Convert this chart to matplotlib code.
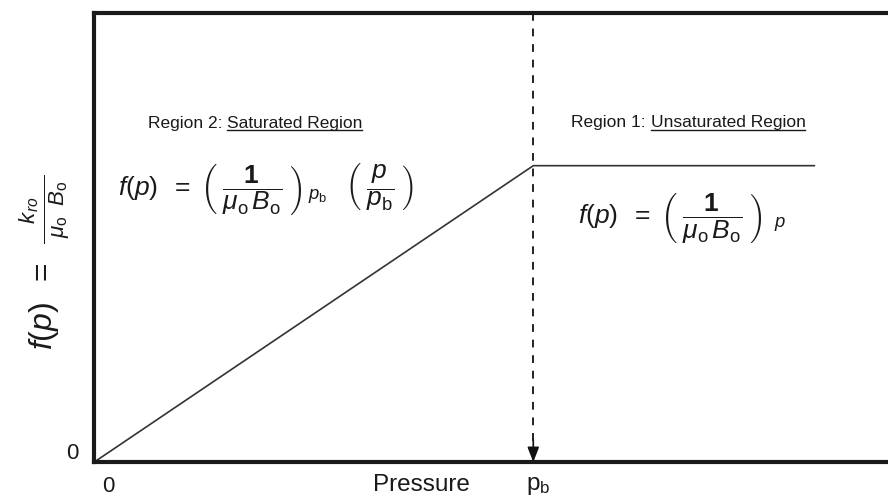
import matplotlib
matplotlib.use("Agg")
import matplotlib.pyplot as plt
from matplotlib.lines import Line2D

plt.rcParams['font.family'] = ['Liberation Sans', 'DejaVu Sans']
plt.rcParams['mathtext.fontset'] = 'custom'
plt.rcParams['mathtext.rm'] = 'Liberation Sans'
plt.rcParams['mathtext.it'] = 'Liberation Sans:italic'
plt.rcParams['mathtext.bf'] = 'Liberation Sans:bold'

# mobility function vs pressure (pb normalised to 1)
pressure = [0.0, 1.0, 1.64]
f_p = [0.0, 0.66, 0.66]
pb = 1.0

region_labels = [("Region 2: ", "Saturated Region"), ("Region 1: ", "Unsaturated Region")]
region_pos = [(0.122, 0.744), (1.086, 0.746)]

eq_saturated = (r'$f(p)\;\;=\;\left(\;\dfrac{\mathbf{1}}{\mu_\mathrm{o}\,B_\mathrm{o}}\;\right)_{\,p_\mathrm{b}}'
                r'\;\;\;\left(\;\dfrac{p}{p_\mathrm{b}}\;\right)$')
eq_unsaturated = (r'$f(p)\;\;=\;\left(\;\dfrac{\mathbf{1}}{\mu_\mathrm{o}\,B_\mathrm{o}}\;\right)_{\;\;p}$')
ylabel = r'$f(p)\;\;=\;\;\frac{k_{ro}}{\;\mu_\mathrm{o}\;\;B_\mathrm{o}\;}$'
text_color = '#1a1a1a'

fig = plt.figure(figsize=(8.88, 4.98), dpi=100)
ax = fig.add_axes([0.106, 0.072, 0.905, 0.902])
ax.set_xlim(0, 1.83)
ax.set_ylim(0, 1)

ax.plot(pressure, f_p, color='#333333', lw=1.2)

# dashed drop line at bubble point with arrow head
ax.plot([pb, pb], [1.0, 0.04], color='#222222', lw=1.4, ls=(0, (4, 4)))
ax.annotate('', xy=(pb, 0.0), xytext=(pb, 0.05),
            arrowprops=dict(arrowstyle='-|>,head_length=0.9,head_width=0.35',
                            color='#111111', lw=1.2, shrinkA=0, shrinkB=0))

for sp in ax.spines.values():
    sp.set_linewidth(3)
    sp.set_color('#1a1a1a')
ax.set_xticks([])
ax.set_yticks([])

# region headers, the region name gets underlined below
label_texts = []
for (lead, name), (x, y) in zip(region_labels, region_pos):
    t1 = ax.text(x, y, lead, fontsize=12.5, color=text_color, va='baseline')
    label_texts.append((t1, name))

ax.text(0.054, 0.606, eq_saturated, fontsize=19, va='center', color=text_color)
ax.text(1.102, 0.543, eq_unsaturated, fontsize=19, va='center', color=text_color)

fig.text(0.050, 0.474, ylabel, fontsize=23, rotation=90, ha='center', va='center',
         color=text_color)
fig.text(0.081, 0.090, '0', fontsize=16, ha='center', va='center', color=text_color)
fig.text(0.122, 0.024, '0', fontsize=16, ha='center', va='center', color=text_color)
fig.text(0.475, 0.026, 'Pressure', fontsize=17.5, ha='center', va='center', color=text_color)
fig.text(0.606, 0.024, r'p$_\mathregular{b}$', fontsize=17.5, ha='center', va='center',
         color=text_color)

fig.canvas.draw()
renderer = fig.canvas.get_renderer()
for t1, name in label_texts:
    bb = t1.get_window_extent(renderer)
    xdisp, ydisp = ax.transData.transform(t1.get_position())
    x0 = ax.transData.inverted().transform((bb.x1, ydisp))[0]
    t2 = ax.text(x0, t1.get_position()[1], name, fontsize=12.5, color=text_color,
                 va='baseline')
    bb2 = t2.get_window_extent(renderer)
    yline = ydisp - 2.5
    fx0, fy = fig.transFigure.inverted().transform((bb2.x0, yline))
    fx1, _ = fig.transFigure.inverted().transform((bb2.x1, yline))
    fig.add_artist(Line2D([fx0, fx1], [fy, fy], color=text_color, lw=1.0))

fig.savefig('out.png', dpi=100)
